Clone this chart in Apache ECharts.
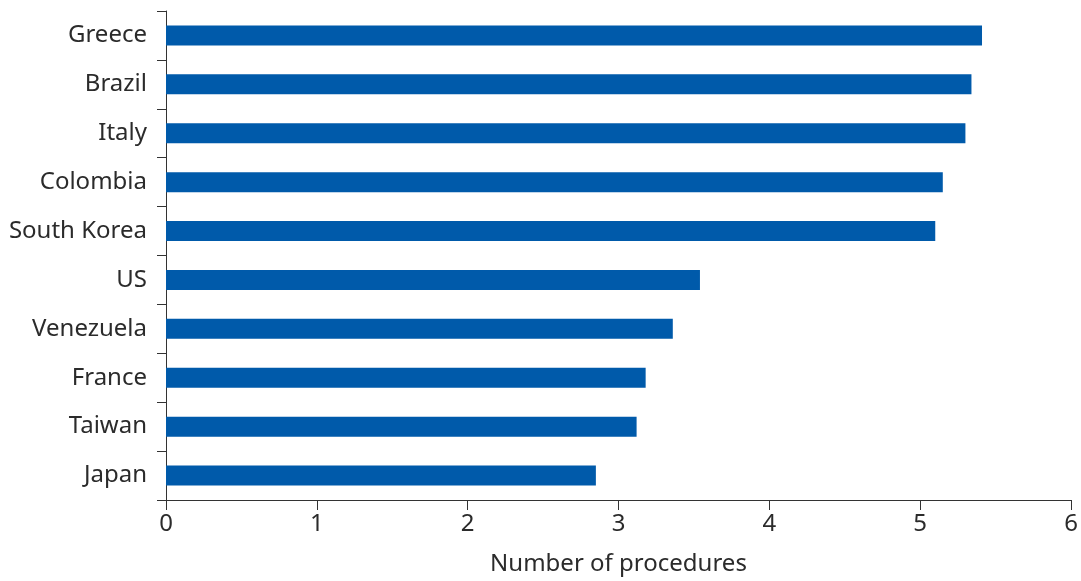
<!DOCTYPE html>
<html><head><meta charset="utf-8">
<script src="https://cdn.jsdelivr.net/npm/echarts@6/dist/echarts.min.js"></script>
<style>html,body{margin:0;padding:0;background:#fff}#c{width:1081px;height:581px}</style>
</head><body><div id="c"></div>
<script>
const categories = ["Greece","Brazil","Italy","Colombia","South Korea","US","Venezuela","France","Taiwan","Japan"];
const values = [5.41,5.34,5.30,5.15,5.10,3.54,3.36,3.18,3.12,2.85];
const xTicks = [0,1,2,3,4,5,6];
const xTitle = "Number of procedures";

const chart = echarts.init(document.getElementById('c'));
const font = 'Noto Sans, Liberation Sans, sans-serif';
chart.setOption({
  animation:false,
  grid:{left:166,right:10,top:11,bottom:80,containLabel:false},
  xAxis:{type:'value',min:xTicks[0],max:xTicks[xTicks.length-1],interval:1,
    name:xTitle,nameLocation:'middle',nameGap:52,
    nameTextStyle:{fontFamily:font,fontSize:24,color:'#2b2b2b'},
    axisLine:{show:true,lineStyle:{color:'#333',width:1}},
    axisTick:{show:true,length:10,lineStyle:{color:'#333'}},
    axisLabel:{fontFamily:font,fontSize:24,color:'#2b2b2b',margin:12},
    splitLine:{show:false}},
  yAxis:{type:'category',data:categories,inverse:true,
    axisLine:{show:true,lineStyle:{color:'#333',width:1}},
    axisTick:{show:true,length:9,lineStyle:{color:'#333'}},
    axisLabel:{fontFamily:font,fontSize:24,color:'#2b2b2b',margin:19,padding:[4,0,0,0]}},
  series:[{type:'bar',data:values,barWidth:20,itemStyle:{color:'#005AAA'}}]
});
</script></body></html>
